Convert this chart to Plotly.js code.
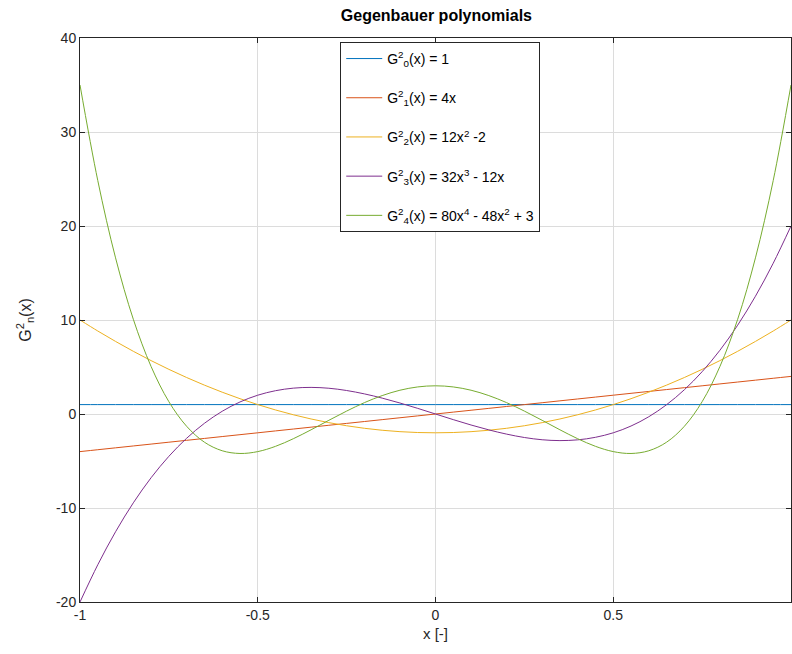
<!DOCTYPE html>
<html>
<head>
<meta charset="utf-8">
<script src="https://cdn.plot.ly/plotly-3.0.1.min.js"></script>
<style>html,body{margin:0;padding:0;background:#fff;}#chart{width:792px;height:654px;}</style>
</head>
<body>
<div id="chart"></div>
<script>
// x sample positions
const xs = [-1,-0.95,-0.9,-0.85,-0.8,-0.75,-0.7,-0.65,-0.6,-0.55,-0.5,-0.45,-0.4,-0.35,-0.3,-0.25,-0.2,-0.15,-0.1,-0.05,0,
            0.05,0.1,0.15,0.2,0.25,0.3,0.35,0.4,0.45,0.5,0.55,0.6,0.65,0.7,0.75,0.8,0.85,0.9,0.95,1];
// series values
const g0 = [1,1,1,1,1,1,1,1,1,1,1,1,1,1,1,1,1,1,1,1,1,1,1,1,1,1,1,1,1,1,1,1,1,1,1,1,1,1,1,1,1];
const g1 = [-4,-3.8,-3.6,-3.4,-3.2,-3,-2.8,-2.6,-2.4,-2.2,-2,-1.8,-1.6,-1.4,-1.2,-1,-0.8,-0.6,-0.4,-0.2,0,
            0.2,0.4,0.6,0.8,1,1.2,1.4,1.6,1.8,2,2.2,2.4,2.6,2.8,3,3.2,3.4,3.6,3.8,4];
const g2 = [10,8.83,7.72,6.67,5.68,4.75,3.88,3.07,2.32,1.63,1,0.43,-0.08,-0.53,-0.92,-1.25,-1.52,-1.73,-1.88,-1.97,-2,
            -1.97,-1.88,-1.73,-1.52,-1.25,-0.92,-0.53,-0.08,0.43,1,1.63,2.32,3.07,3.88,4.75,5.68,6.67,7.72,8.83,10];
const g3 = [-20,-16.04,-12.53,-9.45,-6.78,-4.5,-2.58,-0.99,0.29,1.28,2,2.48,2.75,2.83,2.74,2.5,2.14,1.69,1.17,0.6,0,
            -0.6,-1.17,-1.69,-2.14,-2.5,-2.74,-2.83,-2.75,-2.48,-2,-1.28,-0.29,0.99,2.58,4.5,6.78,9.45,12.53,16.04,20];
const g4 = [35,24.84,16.61,10.08,5.05,1.31,-1.31,-3,-3.91,-4.2,-4,-3.44,-2.63,-1.68,-0.67,0.31,1.21,1.96,2.53,2.88,3,
            2.88,2.53,1.96,1.21,0.31,-0.67,-1.68,-2.63,-3.44,-4,-4.2,-3.91,-3,-1.31,1.31,5.05,10.08,16.61,24.84,35];
const names = [
  'G<sup>2</sup><sub>0</sub>(x) = 1',
  'G<sup>2</sup><sub>1</sub>(x) = 4x',
  'G<sup>2</sup><sub>2</sub>(x) = 12x<sup>2</sup> -2',
  'G<sup>2</sup><sub>3</sub>(x) = 32x<sup>3</sup> - 12x',
  'G<sup>2</sup><sub>4</sub>(x) = 80x<sup>4</sup> - 48x<sup>2</sup> + 3'
];
const colors = ['#0072BD','#D95319','#EDB120','#7E2F8E','#77AC30'];
const series = [g0,g1,g2,g3,g4];

const traces = series.map((ys,i)=>({
  x: xs, y: ys, type:'scatter', mode:'lines', name: names[i],
  legendgroup: 'g'+i,
  line:{color:colors[i], width:1, shape:'spline', smoothing:1}
}));

const axisCommon = {
  showline:true, linecolor:'#262626', linewidth:1, mirror:'ticks',
  ticks:'inside', ticklen:5, tickcolor:'#262626',
  showgrid:true, gridcolor:'#dcdcdc', gridwidth:1, zeroline:false,
  tickfont:{family:'Liberation Sans, Arial, sans-serif', size:14, color:'#262626'}
};

const layout = {
  width:792, height:654,
  margin:{l:80, r:1, t:38, b:52},
  paper_bgcolor:'#fff', plot_bgcolor:'#fff',
  font:{family:'Liberation Sans, Arial, sans-serif', color:'#000'},
  title:{text:'<b>Gegenbauer polynomials</b>', x:0.551, xanchor:'center', y:0.985, yanchor:'top',
         font:{family:'Liberation Sans, Arial, sans-serif', size:16, color:'#000'}},
  xaxis: Object.assign({}, axisCommon, {
    range:[-1,1], tickvals:[-1,-0.5,0,0.5,1], ticktext:['-1','-0.5','0','0.5','1'],
    title:{text:'x [-]', font:{size:15, color:'#262626'}, standoff:6}
  }),
  yaxis: Object.assign({}, axisCommon, {
    range:[-20,40], tickvals:[-20,-10,0,10,20,30,40], ticktext:['-20','-10','0','10','20','30','40'],
    title:{text:'G<sup>2</sup><sub>n</sub>(x)', font:{size:16, color:'#262626'}, standoff:20}
  }),
  showlegend:true,
  legend:{
    x:0.366, y:0.993, xanchor:'left', yanchor:'top',
    bgcolor:'#fff', bordercolor:'#262626', borderwidth:1,
    font:{family:'Liberation Sans, Arial, sans-serif', size:14, color:'#000'},
    traceorder:'grouped', tracegroupgap:18, itemwidth:36
  }
};

Plotly.newPlot('chart', traces, layout, {displayModeBar:false, staticPlot:true});
</script>
</body>
</html>
